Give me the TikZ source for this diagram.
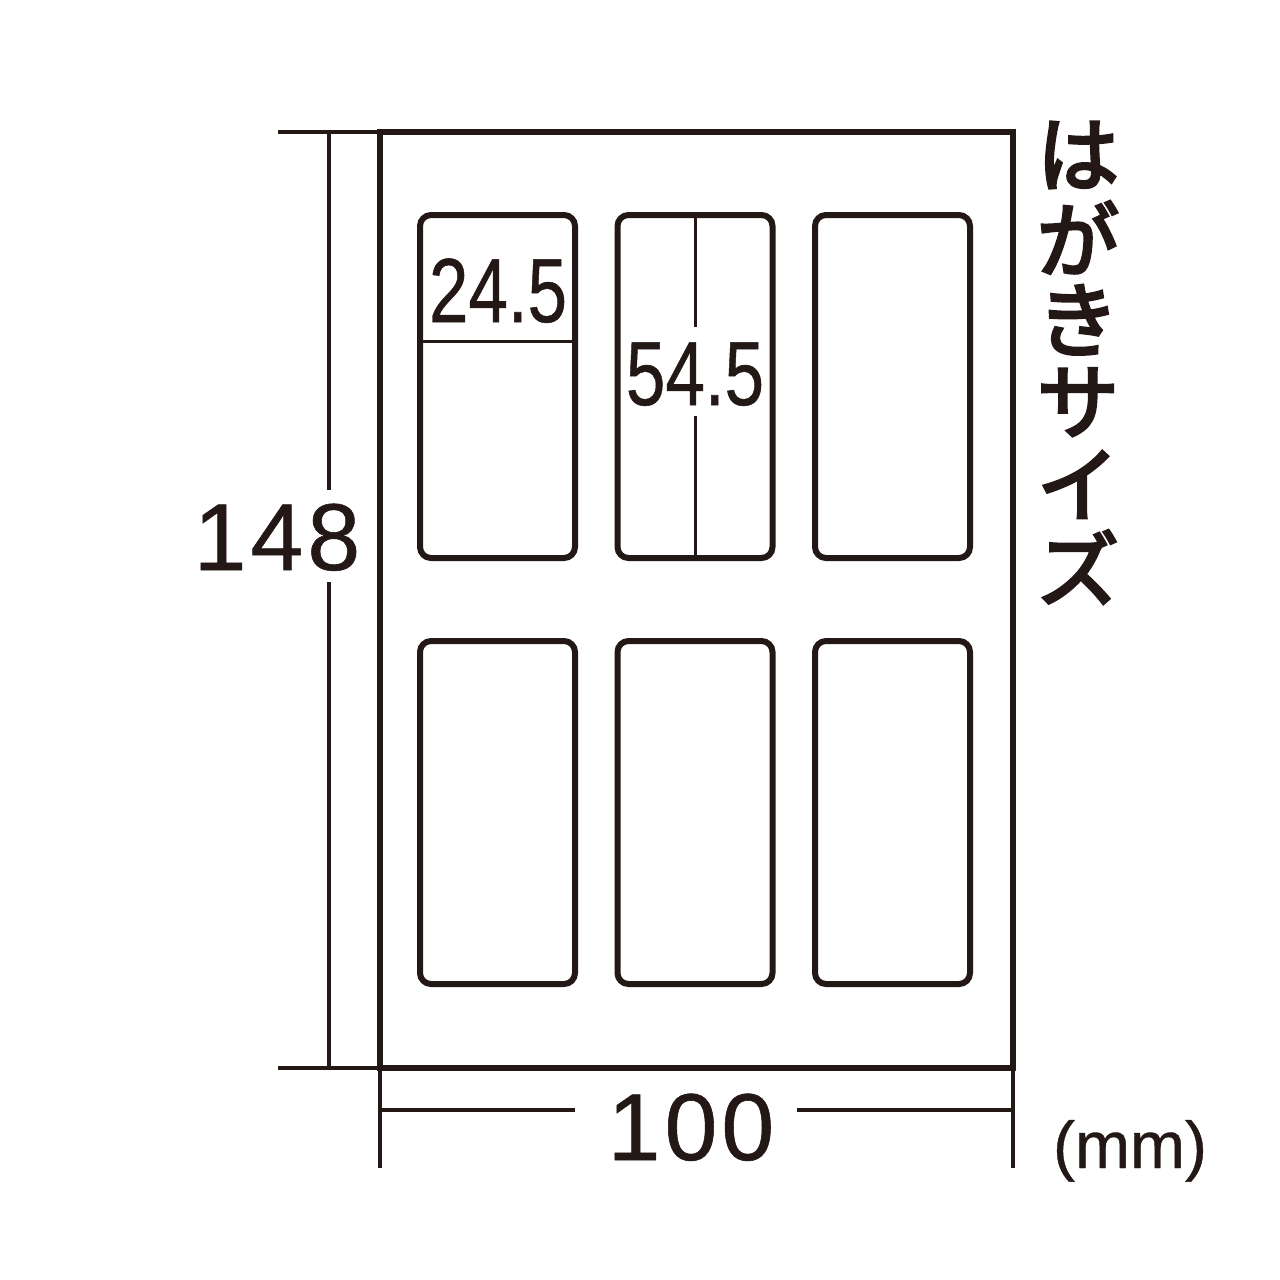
\documentclass[tikz,border=0pt]{standalone}
\usepackage{fontspec}
\usepackage{graphicx}
\setmainfont{Liberation Sans}
\newfontfamily\numfont{Liberation Sans}[FakeBold=0.6]
\newfontfamily\jpfont{Noto Sans CJK JP}
\newcommand\heavytext[1]{\special{pdf:literal direct 2 Tr 3 w}#1\special{pdf:literal direct 0 Tr}}
\definecolor{ink}{HTML}{231815}
\tikzset{
  sheet/.style={draw=ink, line width=6pt, inner sep=0pt, outer sep=0pt, minimum width=633pt, minimum height=936pt},
  labelbox/.style={draw=ink, line width=6pt, rounded corners=11pt, inner sep=0pt, outer sep=0pt, minimum width=155pt, minimum height=343pt},
  dimline/.style={draw=ink, line width=3.5pt},
  thinline/.style={draw=ink, line width=3pt},
  bignum/.style={text=ink, inner sep=0pt, anchor=base, font=\numfont\fontsize{95}{95}\selectfont},
  condnum/.style={text=ink, inner sep=0pt, anchor=base, font=\numfont\fontsize{91}{91}\selectfont},
  jpchar/.style={text=ink, inner sep=0pt, font=\jpfont\fontsize{82}{82}\selectfont},
  unit/.style={text=ink, inner sep=0pt, anchor=base, font=\numfont\fontsize{66}{66}\selectfont}
}
\begin{document}
\begin{tikzpicture}[x=1pt,y=-1pt]
\useasboundingbox (0,0) rectangle (1280,1280);
% sheet
\node[sheet] (S) at (696.5,600) {};
% labels
\node[labelbox] (L1) at (497.5,386.5) {};
\node[labelbox] (L2) at (695,386.5) {};
\node[labelbox] (L3) at (892.5,386.5) {};
\node[labelbox] (L4) at (497.5,812.5) {};
\node[labelbox] (L5) at (695,812.5) {};
\node[labelbox] (L6) at (892.5,812.5) {};
% label 1 height mark
\coordinate (h1l) at (420,341);
\coordinate (h1r) at (575,341);
\draw[thinline] (h1l) -- (h1r);
\node[condnum] (t245) at (498,322) {\scalebox{0.78}[1]{24.5}};
% label 2 width mark
\coordinate (w2t) at (695,215);
\coordinate (w2a) at (695,327);
\coordinate (w2b) at (695,416);
\coordinate (w2d) at (695,558);
\draw[thinline] (w2t) -- (w2a);
\draw[thinline] (w2b) -- (w2d);
\node[condnum] (t545) at (695,405) {\scalebox{0.78}[1]{54.5}};
% left dimension
\coordinate (ltl) at (278,132);
\coordinate (ltr) at (380,132);
\coordinate (lbl) at (278,1068);
\coordinate (lbr) at (380,1068);
\coordinate (lv1) at (329,132);
\coordinate (lv2) at (329,490);
\coordinate (lv3) at (329,582);
\coordinate (lv4) at (329,1068);
\draw[dimline] (ltl) -- (ltr);
\draw[dimline] (lbl) -- (lbr);
\draw[dimline] (lv1) -- (lv2);
\draw[dimline] (lv3) -- (lv4);
\node[bignum] (t148) at (277,570) {1\kern4pt4\kern4pt8};
% bottom dimension
\coordinate (bl1) at (380,1068);
\coordinate (bl2) at (380,1168);
\coordinate (br1) at (1013,1068);
\coordinate (br2) at (1013,1168);
\coordinate (bh1) at (380,1110);
\coordinate (bh2) at (575,1110);
\coordinate (bh3) at (797,1110);
\coordinate (bh4) at (1013,1110);
\draw[dimline] (bl1) -- (bl2);
\draw[dimline] (br1) -- (br2);
\draw[dimline] (bh1) -- (bh2);
\draw[dimline] (bh3) -- (bh4);
\node[bignum] (t100) at (691,1160) {1\kern4pt0\kern4pt0};
\node[unit] (mm) at (1130,1168) {(mm)};
% vertical Japanese text
\node[jpchar] (j1) at (1078,155) {\heavytext{は}};
\node[jpchar] (j2) at (1078,237.4) {\heavytext{が}};
\node[jpchar] (j3) at (1078,319.8) {\heavytext{き}};
\node[jpchar] (j4) at (1078,402.2) {\heavytext{サ}};
\node[jpchar] (j5) at (1078,484.6) {\heavytext{イ}};
\node[jpchar] (j6) at (1078,567) {\heavytext{ズ}};
\end{tikzpicture}
\end{document}
